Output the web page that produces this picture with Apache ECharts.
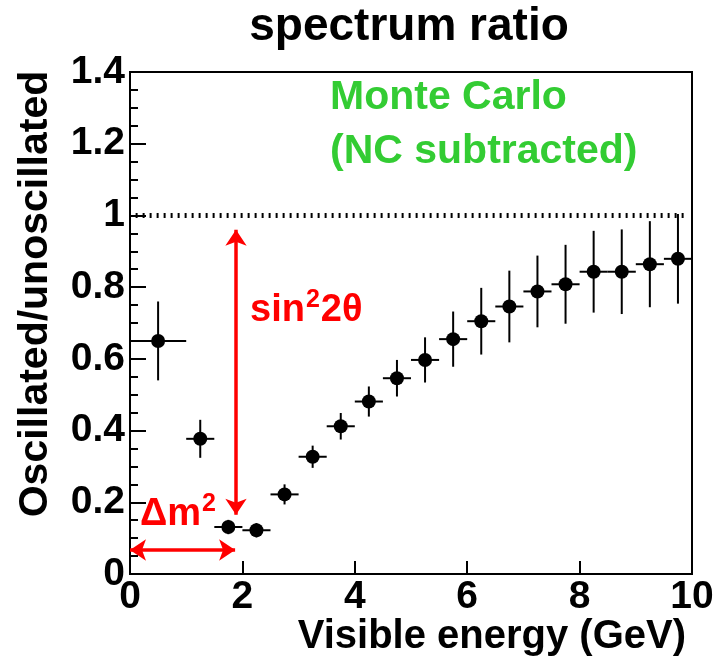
<!DOCTYPE html>
<html>
<head>
<meta charset="utf-8">
<script src="https://cdn.jsdelivr.net/npm/echarts@6/dist/echarts.min.js"></script>
<style>
html,body{margin:0;padding:0;background:#fff;}
#chart{width:719px;height:664px;}
</style>
</head>
<body>
<div id="chart"></div>
<script>
// ---- data ----
const binCenters = [0.5,1.25,1.75,2.25,2.75,3.25,3.75,4.25,4.75,5.25,5.75,6.25,6.75,7.25,7.75,8.25,8.75,9.25,9.75];
const binLow     = [0,1,1.5,2,2.5,3,3.5,4,4.5,5,5.5,6,6.5,7,7.5,8,8.5,9,9.5];
const binHigh    = [1,1.5,2,2.5,3,3.5,4,4.5,5,5.5,6,6.5,7,7.5,8,8.5,9,9.5,10];
const ratio      = [0.65,0.377,0.131,0.122,0.222,0.327,0.412,0.481,0.546,0.597,0.655,0.705,0.746,0.788,0.808,0.843,0.843,0.864,0.879];
const ratioErr   = [0.11,0.053,0.02,0.02,0.028,0.031,0.037,0.042,0.051,0.063,0.077,0.093,0.1,0.1,0.11,0.114,0.118,0.12,0.125];
const xTicks = [0,2,4,6,8,10];
const yTicks = [0,0.2,0.4,0.6,0.8,1,1.2,1.4];
const refLevel = 1;
const refRange = [0.1, 9.93];
const sinArrow = {x:1.886, from:0.165, to:0.96};
const dmArrow  = {y:0.067, from:0, to:1.87};

const FONT = "'Liberation Sans', Arial, sans-serif";
const chart = echarts.init(document.getElementById('chart'));

const pts = binCenters.map((c,i)=>[c, ratio[i], binLow[i], binHigh[i], ratioErr[i]]);

const redRich = {
  b:{font:'bold 38px '+FONT,fill:'#ff0000',color:'#ff0000',verticalAlign:'bottom',lineHeight:44},
  s:{font:'bold 25px '+FONT,fill:'#ff0000',color:'#ff0000',verticalAlign:'top',lineHeight:44,padding:[2,1,0,1]}
};

chart.setOption({
  animation:false,
  backgroundColor:'#fff',
  grid:{left:130,right:27,top:72,bottom:90,show:true,borderColor:'#000',borderWidth:2,backgroundColor:'transparent'},
  xAxis:{
    type:'value',min:xTicks[0],max:xTicks[xTicks.length-1],interval:2,
    axisLine:{show:true,onZero:false,lineStyle:{color:'#000',width:2}},
    axisTick:{show:true,inside:true,length:13,lineStyle:{color:'#000',width:2}},
    minorTick:{show:false},
    splitLine:{show:false},
    axisLabel:{fontFamily:FONT,fontWeight:'bold',fontSize:39,color:'#000',margin:4}
  },
  yAxis:{
    type:'value',min:yTicks[0],max:yTicks[yTicks.length-1],interval:0.2,
    axisLine:{show:true,onZero:false,lineStyle:{color:'#000',width:2}},
    axisTick:{show:true,inside:true,length:16,lineStyle:{color:'#000',width:2}},
    minorTick:{show:true,splitNumber:4,length:8,lineStyle:{color:'#000',width:2}},
    splitLine:{show:false},
    axisLabel:{fontFamily:FONT,fontWeight:'bold',fontSize:39,color:'#000',margin:5,
      formatter:v=>String(+v.toFixed(1))}
  },
  series:[
    {
      type:'line',silent:true,symbol:'none',
      data:[[refRange[0],refLevel],[refRange[1],refLevel]],
      lineStyle:{color:'#000',width:5,type:[2,5],cap:'butt'},
      z:1
    },
    {
      type:'custom',silent:true,
      data:pts,
      encode:{x:0,y:1},
      renderItem:function(params,api){
        const c=api.value(0), v=api.value(1), lo=api.value(2), hi=api.value(3), e=api.value(4);
        const p=api.coord([c,v]);
        const pl=api.coord([lo,v]), ph=api.coord([hi,v]);
        const pt=api.coord([c,v+e]), pb=api.coord([c,v-e]);
        const ls={stroke:'#000',lineWidth:2};
        return {type:'group',children:[
          {type:'line',shape:{x1:pl[0],y1:pl[1],x2:ph[0],y2:ph[1]},style:ls},
          {type:'line',shape:{x1:pt[0],y1:pt[1],x2:pb[0],y2:pb[1]},style:ls},
          {type:'circle',shape:{cx:p[0],cy:p[1],r:7},style:{fill:'#000'}}
        ]};
      },
      z:3
    },
    {
      type:'line',silent:true,data:[],symbol:'none',
      markLine:{
        silent:true,animation:false,
        symbol:['arrow','arrow'],symbolSize:16,
        label:{show:false},
        lineStyle:{color:'#ff0000',width:3.5,type:'solid'},
        data:[
          [{coord:[sinArrow.x,sinArrow.from]},{coord:[sinArrow.x,sinArrow.to]}],
          [{coord:[dmArrow.from,dmArrow.y]},{coord:[dmArrow.to,dmArrow.y]}]
        ]
      },
      z:4
    }
  ],
  graphic:[
    {type:'text',x:409,y:27,style:{text:'spectrum ratio',font:'bold 46px '+FONT,fill:'#000',align:'center',verticalAlign:'middle'}},
    {type:'text',x:36,y:294,rotation:Math.PI/2,style:{text:'Oscillated/unoscillated',font:'bold 41px '+FONT,fill:'#000',align:'center',verticalAlign:'middle'}},
    {type:'text',x:686,y:637,style:{text:'Visible energy (GeV)',font:'bold 40px '+FONT,fill:'#000',align:'right',verticalAlign:'middle'}},
    {type:'text',x:330,y:98,style:{text:'Monte Carlo',font:'bold 41px '+FONT,fill:'#33cc33',align:'left',verticalAlign:'middle'}},
    {type:'text',x:330,y:152,style:{text:'(NC subtracted)',font:'bold 41px '+FONT,fill:'#33cc33',align:'left',verticalAlign:'middle'}},
    {type:'text',x:250,y:308,style:{text:'{b|sin}{s|2}{b|2\u03B8}',rich:redRich,align:'left',verticalAlign:'middle'}},
    {type:'text',x:140,y:512,style:{text:'{b|\u0394m}{s|2}',rich:redRich,align:'left',verticalAlign:'middle'}}
  ]
});
</script>
</body>
</html>
